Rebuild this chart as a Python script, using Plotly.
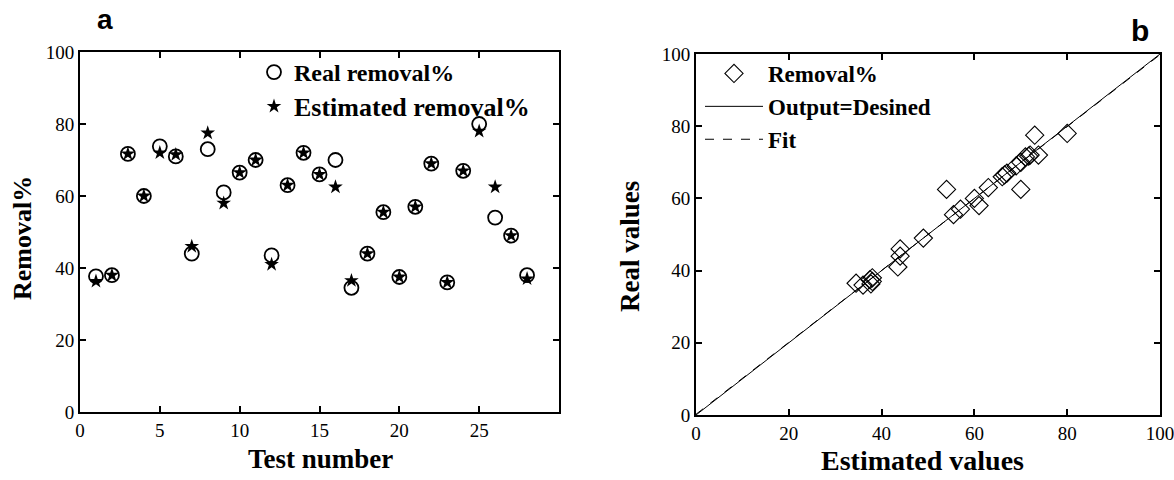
import plotly.graph_objects as go

# ---------------- data ----------------
test_number = list(range(1, 29))
real_removal = [37.7, 38.0, 71.7, 60.0, 73.8, 71.0, 44.0, 73.0, 61.0, 66.5,
                70.0, 43.5, 63.0, 72.0, 66.0, 70.0, 34.5, 44.0, 55.5, 37.5,
                57.0, 69.0, 36.0, 67.0, 80.0, 54.0, 49.0, 38.0]
estimated_removal = [36.3, 38.0, 71.7, 60.0, 72.0, 71.5, 46.0, 77.5, 58.0, 66.5,
                     70.0, 41.0, 63.0, 72.0, 66.0, 62.5, 36.5, 44.0, 55.5, 37.5,
                     57.0, 69.0, 36.0, 67.0, 78.0, 62.5, 49.0, 37.0]

# panel b: the picture plots these pairs (x = real, y = estimated)
b_x = real_removal
b_y = estimated_removal

ideal_x = [0, 100]
ideal_y = [0, 100]
fit_x = [0, 100]
fit_y = [0.2, 99.8]

a_xticks = [0, 5, 10, 15, 20, 25]
a_yticks = [0, 20, 40, 60, 80, 100]
b_ticks = [0, 20, 40, 60, 80, 100]

# ---------------- figure ----------------
W, H = 1174, 480
SERIF = "Liberation Serif"
SANS = "Liberation Sans"

fig = go.Figure()

fig.add_trace(go.Scatter(
    x=test_number, y=real_removal, mode="markers", name="<b>Real removal%</b>",
    marker=dict(symbol="circle-open", size=14, color="black", line=dict(width=1.8)),
    xaxis="x", yaxis="y", legend="legend"))
fig.add_trace(go.Scatter(
    x=test_number, y=estimated_removal, mode="markers",
    name="<b><span style='font-size:26px'>Estimated removal%</span></b>",
    marker=dict(symbol="star", size=11, color="black", line=dict(width=0)),
    xaxis="x", yaxis="y", legend="legend"))

fig.add_trace(go.Scatter(
    x=b_x, y=b_y, mode="markers", name="<b>Removal%</b>",
    marker=dict(symbol="diamond-open", size=14, color="black", line=dict(width=1.1)),
    xaxis="x2", yaxis="y2", legend="legend2"))
fig.add_trace(go.Scatter(
    x=ideal_x, y=ideal_y, mode="lines", name="<b>Output=Desined</b>",
    line=dict(color="black", width=1),
    xaxis="x2", yaxis="y2", legend="legend2"))
fig.add_trace(go.Scatter(
    x=fit_x, y=fit_y, mode="lines", name="<b>Fit</b>",
    line=dict(color="black", width=1, dash="dash"),
    xaxis="x2", yaxis="y2", legend="legend2"))

def px_x(p):
    return p / W

def px_y(p):
    return 1 - p / H

axis_common = dict(
    showgrid=False, zeroline=False, showline=True, linecolor="black", linewidth=2,
    mirror="ticks", ticks="inside", ticklen=6, tickwidth=1.5, tickcolor="black",
    automargin=False, ticklabeloverflow="allow",
    tickfont=dict(family=SERIF, size=19, color="black"),
)

fig.update_layout(
    template="none",
    width=W, height=H,
    margin=dict(l=0, r=0, t=0, b=0, pad=0, autoexpand=False),
    paper_bgcolor="white", plot_bgcolor="white",
    font=dict(family=SERIF, color="black"),
    xaxis=dict(domain=[px_x(80), px_x(559)], range=[0, 30], tickvals=a_xticks,
               anchor="y", **axis_common),
    yaxis=dict(domain=[px_y(412), px_y(52)], range=[0, 100], tickvals=a_yticks,
               anchor="x", **axis_common),
    xaxis2=dict(domain=[px_x(696), px_x(1160)], range=[0, 100], tickvals=b_ticks,
                anchor="y2", **axis_common),
    yaxis2=dict(domain=[px_y(415), px_y(54)], range=[0, 100], tickvals=b_ticks,
                anchor="x2", **axis_common),
    legend=dict(x=px_x(254), y=px_y(50), xanchor="left", yanchor="top",
                bgcolor="rgba(0,0,0,0)", borderwidth=0, tracegroupgap=0,
                font=dict(family=SERIF, size=24, color="black")),
    legend2=dict(x=px_x(700), y=px_y(52), xanchor="left", yanchor="top",
                 bgcolor="rgba(0,0,0,0)", borderwidth=0, itemwidth=58, tracegroupgap=0,
                 font=dict(family=SERIF, size=23, color="black")),
    showlegend=True,
)

annotations = [
    dict(text="<b>a</b>", x=px_x(105), y=px_y(20), font=dict(family=SANS, size=28)),
    dict(text="<b>b</b>", x=px_x(1140), y=px_y(30), font=dict(family=SANS, size=30)),
    dict(text="<b>Test number</b>", x=px_x(320), y=px_y(459), font=dict(family=SERIF, size=27)),
    dict(text="<b>Estimated values</b>", x=px_x(922), y=px_y(460), font=dict(family=SERIF, size=28)),
    dict(text="<b>Removal%</b>", x=px_x(22), y=px_y(238), textangle=-90, font=dict(family=SERIF, size=26)),
    dict(text="<b>Real values</b>", x=px_x(630), y=px_y(247), textangle=-90, font=dict(family=SERIF, size=27)),
]
for a in annotations:
    a.update(xref="paper", yref="paper", showarrow=False, xanchor="center", yanchor="middle")
    a["font"]["color"] = "black"
fig.update_layout(annotations=annotations)

fig.write_html("out.html",
               config={"displayModeBar": False},
               post_script="document.body.style.margin='0';document.body.style.padding='0';")
